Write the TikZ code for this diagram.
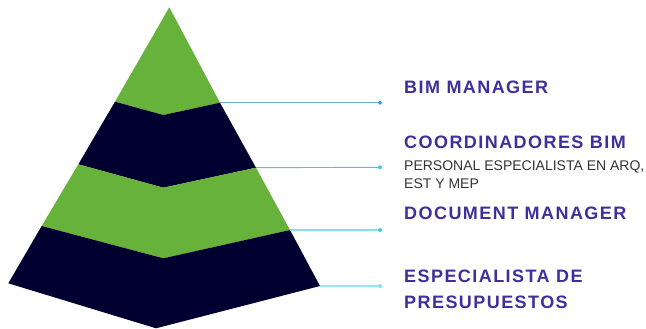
\documentclass[tikz,border=0pt]{standalone}
\usepackage{fontspec}
\setmainfont{Liberation Sans}
\newfontfamily\rolefont[LetterSpace=8]{Liberation Sans}
\usepackage{xcolor}
\usetikzlibrary{shapes.geometric}
\definecolor{leafgreen}{HTML}{67B23A}
\definecolor{navyink}{HTML}{000030}
\definecolor{roleviolet}{HTML}{3F2F9C}
\definecolor{linkA}{HTML}{6AAEDC}
\definecolor{linkB}{HTML}{4CC2E6}
\definecolor{linkC}{HTML}{80E2E8}
\definecolor{linkD}{HTML}{90E8EC}
\definecolor{dotA}{HTML}{3A8EE0}
\definecolor{dotB}{HTML}{3CC8E8}
\tikzset{
  role/.style={anchor=base west,inner sep=0pt,text=roleviolet,font=\rolefont\bfseries\fontsize{18}{23}\selectfont,align=left},
  note/.style={anchor=base west,inner sep=0pt,text=black!80,font=\fontsize{14}{18}\selectfont,align=left},
  tip/.style={circle,inner sep=0pt,minimum size=4pt}
}
\begin{document}
\begin{tikzpicture}[x=1pt,y=-1pt]
\useasboundingbox (0,0) rectangle (646,329);
%pyramid layers
\coordinate (apex) at (169.3,7.3);
\coordinate (l1) at (115,101.7);
\coordinate (m1) at (163.3,115);
\coordinate (r1) at (220,102.7);
\coordinate (l2) at (78.3,164.3);
\coordinate (m2) at (163.3,187.7);
\coordinate (r2) at (256,167.7);
\coordinate (l3) at (41.7,226);
\coordinate (m3) at (163.3,258.3);
\coordinate (r3) at (290,230);
\coordinate (l4) at (8.3,283.3);
\coordinate (m4) at (156,328.3);
\coordinate (r4) at (320,286);
\fill[leafgreen](apex)--(r1)--(m1)--(l1)--cycle;
\fill[navyink](l1)--(m1)--(r1)--(r2)--(m2)--(l2)--cycle;
\fill[leafgreen](l2)--(m2)--(r2)--(r3)--(m3)--(l3)--cycle;
\fill[navyink](l3)--(m3)--(r3)--(r4)--(m4)--(l4)--cycle;
%leader dots
\node[tip,fill=dotA,diamond,minimum size=4.5pt](d1) at (380,102.7){};
\node[tip,fill=dotB](d2) at (380,167.3){};
\node[tip,fill=dotB](d3) at (380,230){};
\node[tip,fill=linkC](d4) at (380,286){};
\draw[linkA,line width=1.1pt](r1)--(d1);
\draw[linkB,line width=0.9pt](r2)--(d2);
\draw[linkC,line width=1.2pt](r3)--(d3);
\draw[linkD,line width=1.2pt](r4)--(d4);
%labels (base = last line)
\node[role](bim) at (404,93.3){BIM MANAGER};
\node[role](coord) at (404,148.3){COORDINADORES BIM};
\node[note](spec) at (404,188){PERSONAL ESPECIALISTA EN ARQ,\\EST Y MEP};
\node[role](docm) at (404,219.3){DOCUMENT MANAGER};
\node[role,font=\rolefont\bfseries\fontsize{18}{25.6}\selectfont](pres) at (404,308.3){ESPECIALISTA DE\\PRESUPUESTOS};
\end{tikzpicture}
\end{document}
